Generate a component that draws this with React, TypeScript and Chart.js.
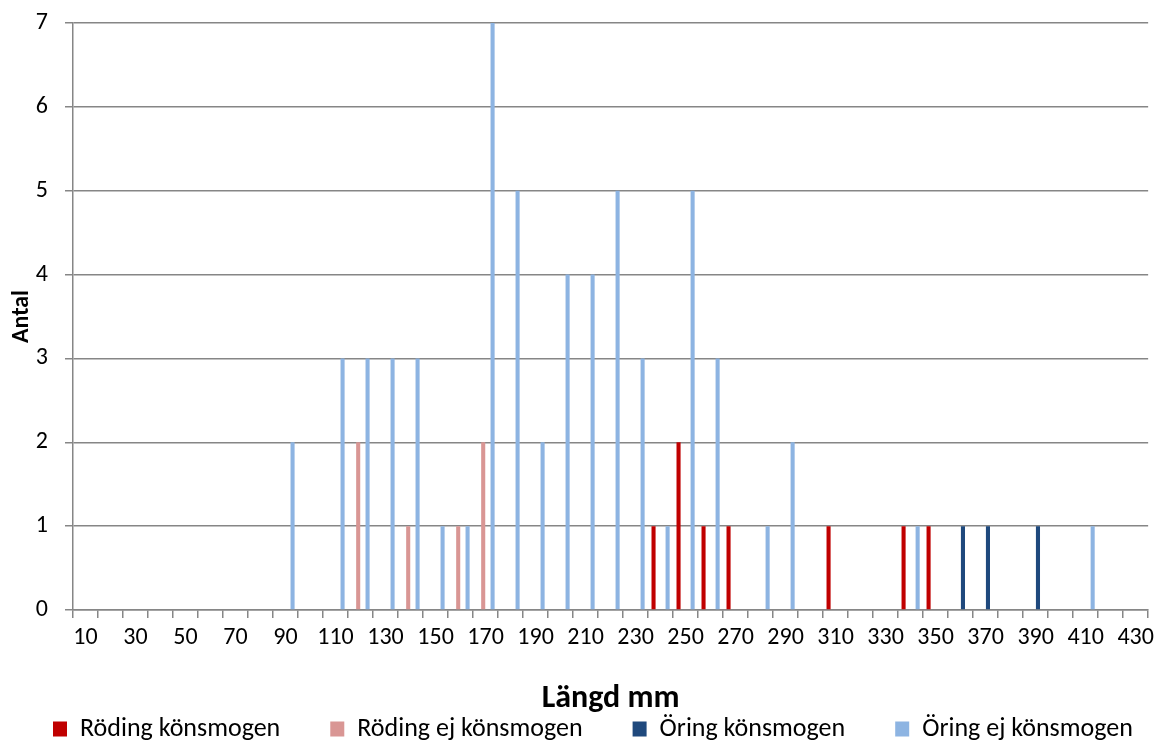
import React, { useEffect, useRef } from "react";
import { Chart, registerables } from "chart.js";

Chart.register(...registerables);

const CATEGORIES = [
  10, 20, 30, 40, 50, 60, 70, 80, 90, 100, 110, 120, 130, 140, 150, 160, 170, 180, 190, 200, 210,
  220, 230, 240, 250, 260, 270, 280, 290, 300, 310, 320, 330, 340, 350, 360, 370, 380, 390, 400,
  410, 420, 430,
];

const RODING_KONSMOGEN = [
  0, 0, 0, 0, 0, 0, 0, 0, 0, 0, 0, 0, 0, 0, 0, 0, 0, 0, 0, 0, 0, 0, 0,
  1, 2, 1, 1, 0, 0, 0, 1, 0, 0, 1, 1, 0, 0, 0, 0, 0, 0, 0, 0,
];

const RODING_EJ = [
  0, 0, 0, 0, 0, 0, 0, 0, 0, 0, 0, 2, 0, 1, 0, 1, 2, 0, 0, 0, 0, 0, 0,
  0, 0, 0, 0, 0, 0, 0, 0, 0, 0, 0, 0, 0, 0, 0, 0, 0, 0, 0, 0,
];

const ORING_KONSMOGEN = [
  0, 0, 0, 0, 0, 0, 0, 0, 0, 0, 0, 0, 0, 0, 0, 0, 0, 0, 0, 0, 0, 0, 0,
  0, 0, 0, 0, 0, 0, 0, 0, 0, 0, 0, 0, 1, 1, 0, 1, 0, 0, 0, 0,
];

const ORING_EJ = [
  0, 0, 0, 0, 0, 0, 0, 0, 2, 0, 3, 3, 3, 3, 1, 1, 7, 5, 2, 4, 4, 5, 3,
  1, 5, 3, 0, 1, 2, 0, 0, 0, 0, 1, 0, 0, 0, 0, 0, 0, 1, 0, 0,
];

const SERIES_NAMES = [
  "Röding könsmogen",
  "Röding ej könsmogen",
  "Öring könsmogen",
  "Öring ej könsmogen",
];
const SERIES_COLORS = ["#C00000", "#D99694", "#1F497D", "#8DB4E2"];

const Y_MAX = 7;
const X_TITLE = "Längd mm";
const Y_TITLE = "Antal";

const FONT = "Carlito, Lato, 'Open Sans', sans-serif";
const GRID = "#868686";

const LEGEND_PAD = 50;
const LEGEND_FONT = 26;
const LEGEND_RESERVED = 24;
const LEGEND_TEXT_Y = 729;
const LEGEND_X0 = 53;

const legendPlacer = {
  id: "legendPlacer",
  afterInit(chart: any) {
    const lg = chart.legend;
    if (!lg) return;
    const origFit = lg.fit.bind(lg);
    lg.fit = function () {
      this.maxWidth = 3000;
      origFit();
      this.height = LEGEND_RESERVED;
    };
  },
  afterLayout(chart: any) {
    const lg = chart.legend;
    if (!lg) return;
    const top = LEGEND_TEXT_Y - LEGEND_PAD - LEGEND_FONT / 2;
    lg.top = top;
    lg.bottom = chart.height;
    lg.height = lg.bottom - lg.top;
    const lw = (lg.lineWidths && lg.lineWidths[0]) || 0;
    lg.right = LEGEND_X0 + lw + 10;
    lg.left = LEGEND_X0 - LEGEND_PAD - 10;
    lg.width = lg.right - lg.left;
  },
};

export default function App() {
  const ref = useRef<HTMLCanvasElement | null>(null);

  useEffect(() => {
    if (!ref.current) return;
    const values = [RODING_KONSMOGEN, RODING_EJ, ORING_KONSMOGEN, ORING_EJ];
    const chart = new Chart(ref.current, {
      type: "bar",
      data: {
        labels: CATEGORIES.map(String),
        datasets: values.map((v, i) => ({
          label: SERIES_NAMES[i],
          data: v,
          backgroundColor: SERIES_COLORS[i],
          borderWidth: 0,
          categoryPercentage: 0.75,
          barPercentage: 0.87,
        })),
      },
      plugins: [legendPlacer],
      options: {
        animation: false,
        responsive: true,
        maintainAspectRatio: false,
        layout: { padding: { left: 0, right: 10, top: 23, bottom: 0 } },
        plugins: {
          tooltip: { enabled: false },
          legend: {
            position: "bottom",
            labels: {
              boxWidth: 14,
              boxHeight: 15,
              padding: LEGEND_PAD,
              color: "#000",
              font: { family: FONT, size: LEGEND_FONT },
            },
          },
        },
        scales: {
          x: {
            afterFit: (scale: any) => {
              scale.height = 108;
            },
            grid: {
              drawOnChartArea: false,
              drawTicks: true,
              tickLength: 8,
              color: GRID,
              lineWidth: 1.5,
            },
            border: { color: GRID, width: 1.5 },
            ticks: {
              autoSkip: false,
              maxRotation: 0,
              minRotation: 0,
              padding: 6,
              color: "#000",
              font: { family: FONT, size: 24 },
              callback: (_v: any, idx: number) => (idx % 2 === 0 ? String(CATEGORIES[idx]) : ""),
            },
            title: {
              display: true,
              text: X_TITLE,
              color: "#000",
              font: { family: FONT, size: 32, weight: "bold" },
              padding: { top: 0, bottom: 0 },
            },
          },
          y: {
            min: 0,
            max: Y_MAX,
            afterFit: (scale: any) => {
              scale.width = 73;
              scale.paddingTop = 0;
              scale.paddingBottom = 0;
            },
            grid: { color: GRID, lineWidth: 1.5, tickLength: 8 },
            border: { color: GRID, width: 1.5 },
            ticks: {
              stepSize: 1,
              padding: 17,
              color: "#000",
              font: { family: FONT, size: 24 },
            },
            title: {
              display: true,
              text: Y_TITLE,
              color: "#000",
              font: { family: FONT, size: 24, weight: "bold" },
              padding: { top: 8, bottom: 0 },
            },
          },
        },
      },
    });
    return () => chart.destroy();
  }, []);

  return (
    <div style={{ position: "absolute", left: 0, top: 0, width: 1160, height: 742, background: "#fff" }}>
      <canvas ref={ref} />
    </div>
  );
}
